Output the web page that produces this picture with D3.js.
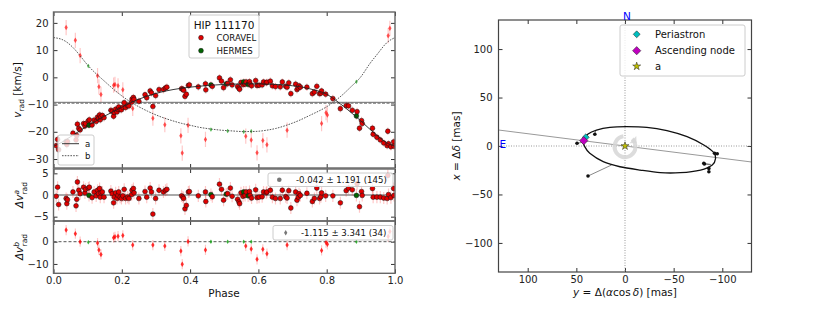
<!DOCTYPE html>
<html>
<head>
<meta charset="utf-8">
<script src="https://cdn.jsdelivr.net/npm/d3@7"></script>
<style>
body{margin:0;background:#fff}
svg{display:block;font-family:"DejaVu Sans",sans-serif}
</style>
</head>
<body>
<svg id="chart" width="830" height="312"></svg>
<script>
// ---- component a : phase, radial velocity, O-C residual, instrument (C=CORAVEL, H=HERMES)
var phaseA = [0.008,0.012,0.015,0.037,0.039,0.041,0.057,0.066,0.068,0.070,0.074,0.078,0.088,0.092,0.094,0.102,0.104,0.105,0.113,0.119,
  0.125,0.129,0.132,0.135,0.137,0.139,0.143,0.148,0.168,0.172,0.176,0.178,0.182,0.186,0.189,0.191,0.195,0.199,0.203,0.207,
  0.211,0.217,0.221,0.229,0.230,0.234,0.236,0.250,0.268,0.273,0.283,0.287,0.291,0.299,0.309,0.322,0.328,0.332,0.375,0.379,
  0.381,0.385,0.389,0.395,0.398,0.424,0.445,0.446,0.461,0.465,0.486,0.492,0.498,0.506,0.510,0.518,0.523,0.539,0.543,0.545,
  0.549,0.555,0.557,0.561,0.564,0.570,0.574,0.576,0.580,0.592,0.596,0.602,0.611,0.615,0.623,0.625,0.635,0.641,0.650,0.664,
  0.670,0.680,0.684,0.689,0.695,0.709,0.713,0.717,0.719,0.723,0.742,0.758,0.764,0.771,0.779,0.783,0.785,0.797,0.818,0.840,
  0.857,0.864,0.875,0.887,0.889,0.896,0.902,0.904,0.934,0.936,0.947,0.957,0.967,0.977,0.979,0.981,0.988,0.996,0.997];
var velA = [-25.1,-22.8,-26.6,-23.6,-24.7,-23.6,-20.5,-23.0,-21.4,-17.2,-18.8,-19.3,-17.0,-17.9,-17.0,-16.0,-17.6,-15.6,-17.5,-15.7,
  -16.2,-14.6,-15.2,-13.8,-15.6,-14.5,-14.0,-14.8,-12.1,-12.5,-14.3,-12.9,-11.7,-12.7,-11.8,-10.9,-11.8,-11.9,-11.0,-9.3,
  -11.1,-10.4,-10.5,-9.1,-8.0,-7.4,-8.1,-8.8,-6.4,-7.5,-5.0,-5.7,-10.7,-6.7,-4.5,-4.5,-3.9,-3.6,-4.2,-4.4,
  -4.7,-7.0,-6.2,-3.0,-2.8,-3.5,-2.4,-4.6,-2.8,-3.3,-0.2,-1.4,-3.8,-2.4,-2.3,-0.9,-2.8,-3.4,-4.0,-4.4,
  -1.9,-2.7,-1.7,-2.5,-1.7,-2.6,-1.6,-2.5,-3.1,-1.2,-3.0,-2.9,-2.8,-1.7,-2.0,-1.8,-1.4,-3.1,-3.4,-3.5,
  -1.7,-3.3,-3.6,-2.0,-6.0,-2.5,-4.5,-3.9,-3.1,-3.6,-3.6,-6.0,-5.4,-3.3,-6.0,-5.8,-5.0,-6.2,-7.8,-11.5,
  -10.4,-10.5,-12.1,-14.2,-12.6,-18.7,-15.9,-17.0,-18.7,-20.9,-22.0,-23.0,-24.1,-25.1,-19.8,-24.4,-25.5,-23.7,-25.3];
var resA = [-0.3,1.8,-2.2,-0.8,-2.0,-1.1,0.7,-2.5,-1.0,3.0,1.1,0.3,1.8,0.5,1.3,1.6,-0.1,1.8,-0.6,0.7,
  -0.2,1.1,0.3,1.5,-0.5,0.5,0.7,-0.5,0.9,0.3,-1.8,-0.5,0.5,-0.8,-0.1,0.7,-0.5,-0.8,-0.2,1.3,
  -0.8,-0.5,-0.8,0.1,1.1,1.5,0.5,-0.8,0.8,-0.5,1.6,0.7,-4.4,-0.8,1.1,0.7,1.1,1.3,-0.2,-0.5,
  -0.8,-3.2,-2.4,0.7,0.8,-0.2,0.7,-1.5,0.1,-0.4,2.5,1.3,-1.2,0.2,0.3,1.6,-0.3,-1.0,-1.6,-2.0,
  0.5,-0.3,0.7,-0.1,0.7,-0.2,0.8,-0.1,-0.7,1.2,-0.6,-0.5,-0.4,0.7,0.5,0.7,1.1,-0.5,-0.8,-0.8,
  1.1,-0.4,-0.7,1.0,-3.0,0.7,-1.2,-0.5,0.3,-0.1,0.4,-1.5,-0.8,1.6,-0.8,-0.4,0.5,-0.2,-0.2,-1.8,
  1.0,1.6,1.2,-0.1,2.6,-2.7,0.8,-0.1,1.5,-0.5,-0.5,-0.5,-0.7,-0.8,4.5,0.1,-0.6,1.5,-0.1];
var instA = "CCCCCCCCCCCCCCCCHCCCCCCCCCCCCCCCCCCCCCCCCCCCCCCCCCCCCCCCCCCCCCCCCCCCHCCCCHCCCCCCCCHCCHCCCCCCCCCCCCCCCCCCCCCCCCCCCCCCCCCCCCCHCCCCCCCCCCCCCC".split("");

// ---- component b
var phaseB = [0.037,0.064,0.078,0.102,0.129,0.133,0.139,0.176,0.180,0.189,0.203,0.232,0.291,0.326,0.373,0.377,0.394,0.445,
  0.461,0.510,0.557,0.563,0.579,0.579,0.596,0.613,0.625,0.684,0.785,0.798,0.802,0.887,0.980,0.985];
var velB = [18.3,13.6,8.0,4.2,0.6,-3.5,-6.3,-2.9,-2.6,-3.1,-4.6,-11.4,-15.0,-17.4,-21.5,-27.8,-17.6,-22.8,
  -19.2,-19.7,-20.0,-21.6,-23.0,-19.8,-27.7,-23.2,-24.8,-19.4,-17.0,-13.0,-13.8,-1.6,15.3,18.0];
var resB = [5.2,3.6,0.0,-0.2,-0.6,-3.7,-5.7,1.8,2.2,2.5,2.8,-1.5,-1.5,-1.9,-4.2,-10.1,0.1,-3.7,
  0.0,0.0,0.0,-1.9,-3.3,0.0,-7.9,-3.4,-5.4,-1.5,-3.9,-0.4,-1.2,0.0,2.3,4.6];
var instB = "CCCHCCCCCCCCCCCCCCHHHCCHCCCCCCCHCC".split("");

// ---- orbital solutions
var curvePhase = [0,0.025,0.05,0.075,0.1,0.125,0.15,0.175,0.2,0.225,0.25,0.275,0.3,0.325,0.35,0.375,0.4,0.425,0.45,0.475,
  0.5,0.525,0.55,0.575,0.6,0.625,0.65,0.675,0.7,0.725,0.75,0.775,0.8,0.825,0.85,0.875,0.9,0.925,0.95,0.975,1.0];
var curveA = [-25.3,-23.8,-21.8,-19.8,-17.8,-16.0,-14.2,-12.6,-11.0,-9.4,-8.0,-6.9,-5.9,-5.1,-4.5,-4.0,-3.6,-3.3,-3.0,-2.8,
  -2.6,-2.5,-2.4,-2.4,-2.4,-2.5,-2.6,-2.8,-3.1,-3.5,-4.2,-5.0,-6.2,-8.3,-10.7,-13.3,-16.0,-18.9,-21.6,-24.0,-25.3];
var curveB = [14.6,13.9,11.8,8.4,4.5,1.3,-1.5,-4.3,-6.8,-9.0,-10.8,-12.4,-13.8,-15.0,-16.0,-16.9,-17.6,-18.3,-18.8,-19.2,
  -19.5,-19.7,-19.9,-19.9,-19.8,-19.4,-18.8,-17.9,-16.8,-15.5,-14.0,-12.5,-10.8,-8.6,-6.0,-3.0,0.2,4.8,8.8,12.6,14.6];
var gammaA = -9.2, gammaB = -9.45;

var topTicks = [20,10,0,-10,-20,-30], midTicks = [5,0,-5], botTicks = [0,-10];
var phaseTicks = [0,0.2,0.4,0.6,0.8,1.0];

// ---- astrometric orbit (mas)
var orbitRA  = [43.1,38.0,29.3,15.5,-1.7,-22.4,-43.1,-63.8,-81.0,-91.3,-93.1,-89.7,-77.6,-56.9,-36.2,-15.5,5.2,22.4,36.2,41.4];
var orbitDec = [5.5,12.4,16.5,19.3,20.0,19.3,15.8,9.6,1.0,-6.9,-12.7,-19.6,-24.8,-27.5,-27.5,-24.8,-21.4,-16.2,-7.6,-0.7];
var obsRA  = [31.0,49.3,38.0,-92.0,-94.8,-81.0,-81.6,-86.2,-86.2];
var obsDec = [12.1,2.8,-31.0,-7.6,-8.0,-17.9,-18.6,-23.1,-26.6];
var fitRA  = [30.0,43.0,13.8,-91.5,-92.5,-88.0,-88.5,-87.0,-86.5];
var fitDec = [16.4,4.0,-19.6,-7.5,-9.0,-19.0,-19.5,-22.0,-25.5];
var nodeRA = [130,-130], nodeDec = [16.5,-16.5];
var periastron = [40.3,9.0], ascNode = [42.4,5.5], starA = [0,0];
var orbitTicks = [100,50,0,-50,-100];

var svg = d3.select("#chart");
var fmt = d3.format("d");
var defs = svg.append("defs");

function styleAxis(g){
  g.attr("font-family","DejaVu Sans").attr("font-size",10);
  g.select(".domain").remove();
  g.selectAll(".tick line").attr("stroke","#333");
  g.selectAll(".tick text").attr("fill","#222");
}
function clip(id,x0,y0,w,h){
  defs.append("clipPath").attr("id",id).append("rect").attr("x",x0).attr("y",y0).attr("width",w).attr("height",h);
}
var thinDiamond = function(cx,cy,h){
  var w = h*0.6;
  return "M"+cx+","+(cy-h/2)+"L"+(cx+w/2)+","+cy+"L"+cx+","+(cy+h/2)+"L"+(cx-w/2)+","+cy+"Z";
};

// ================= left: radial velocity panels =================
var x = d3.scaleLinear().domain([0,1]).range([53.5,395]);
var yTop = d3.scaleLinear().domain([-33.3,24]).range([168,12]);
var yMid = d3.scaleLinear().domain([-6,6]).range([221,169]);
var yBot = d3.scaleLinear().domain([-14.2,9.3]).range([273.3,221]);

function panelAxes(y, ticks, labels, id){
  var r = y.range();
  clip(id, 53.5, r[1], 341.5, r[0]-r[1]);
  var gl = svg.append("g").attr("transform","translate(53.5,0)")
    .call(d3.axisLeft(y).tickValues(ticks).tickSizeInner(-4).tickSizeOuter(0).tickPadding(5).tickFormat(fmt));
  styleAxis(gl);
  var gr = svg.append("g").attr("transform","translate(395,0)")
    .call(d3.axisRight(y).tickValues(ticks).tickSizeInner(-4).tickSizeOuter(0).tickFormat(""));
  styleAxis(gr);
  var gb = svg.append("g").attr("transform","translate(0,"+r[0]+")")
    .call(d3.axisBottom(x).tickValues(phaseTicks).tickSizeInner(-4).tickSizeOuter(0).tickPadding(3.5)
      .tickFormat(labels ? d3.format(".1f") : ""));
  styleAxis(gb);
  var gt = svg.append("g").attr("transform","translate(0,"+r[1]+")")
    .call(d3.axisTop(x).tickValues(phaseTicks).tickSizeInner(-4).tickSizeOuter(0).tickFormat(""));
  styleAxis(gt);
  return svg.append("g").attr("clip-path","url(#"+id+")");
}

// ---- top panel
var pTop = panelAxes(yTop, topTicks, false, "cTop");
pTop.append("line").attr("x1",x(0)).attr("x2",x(1)).attr("y1",yTop(gammaA)).attr("y2",yTop(gammaA))
  .attr("stroke","#8a8a8a").attr("stroke-width",1.3);
pTop.append("line").attr("x1",x(0)).attr("x2",x(1)).attr("y1",yTop(gammaB)).attr("y2",yTop(gammaB))
  .attr("stroke","#777").attr("stroke-width",1.3).attr("stroke-dasharray","3,1.5");

// b errors + markers
pTop.selectAll(".eb").data(phaseB).enter().append("line")
  .attr("x1",function(d){return x(d);}).attr("x2",function(d){return x(d);})
  .attr("y1",function(d,i){return yTop(velB[i]+(instB[i]=="H"?0.6:2.8));})
  .attr("y2",function(d,i){return yTop(velB[i]-(instB[i]=="H"?0.6:2.8));})
  .attr("stroke",function(d,i){return instB[i]=="H"?"rgba(0,140,0,0.3)":"rgba(255,0,0,0.22)";}).attr("stroke-width",1.2);
pTop.selectAll(".mb").data(phaseB).enter().append("path")
  .attr("d",function(d,i){return thinDiamond(x(d),yTop(velB[i]),instB[i]=="H"?4.5:5.5);})
  .attr("fill",function(d,i){return instB[i]=="H"?"#1aa31a":"#ff0000";})
  .attr("opacity",0.65);

// a errors + markers
pTop.selectAll(".ea").data(phaseA).enter().append("line")
  .attr("x1",function(d){return x(d);}).attr("x2",function(d){return x(d);})
  .attr("y1",function(d,i){return yTop(velA[i]+1.4);}).attr("y2",function(d,i){return yTop(velA[i]-1.4);})
  .attr("stroke","rgba(255,0,0,0.22)").attr("stroke-width",1.2);

var lineTop = d3.line().x(function(d){return x(d[0]);}).y(function(d){return yTop(d[1]);}).curve(d3.curveNatural);
pTop.append("path").datum(curvePhase.map(function(p,i){return [p,curveB[i]];}))
  .attr("d",lineTop).attr("fill","none").attr("stroke","#444").attr("stroke-width",0.9).attr("stroke-dasharray","1.6,1.2");

pTop.selectAll(".ma").data(phaseA).enter().append("circle")
  .attr("cx",function(d){return x(d);}).attr("cy",function(d,i){return yTop(velA[i]);}).attr("r",2.4)
  .attr("fill",function(d,i){return instA[i]=="H"?"#006400":"#e00000";})
  .attr("stroke","#111").attr("stroke-width",0.5);

pTop.append("path").datum(curvePhase.map(function(p,i){return [p,curveA[i]];}))
  .attr("d",lineTop).attr("fill","none").attr("stroke","#222").attr("stroke-width",0.9);

// ---- middle panel (residuals a)
var pMid = panelAxes(yMid, midTicks, false, "cMid");
pMid.append("line").attr("x1",x(0)).attr("x2",x(1)).attr("y1",yMid(0)).attr("y2",yMid(0))
  .attr("stroke","#555").attr("stroke-width",1.2);
pMid.selectAll(".ea").data(phaseA).enter().append("line")
  .attr("x1",function(d){return x(d);}).attr("x2",function(d){return x(d);})
  .attr("y1",function(d,i){return yMid(resA[i]+1.4);}).attr("y2",function(d,i){return yMid(resA[i]-1.4);})
  .attr("stroke","rgba(255,0,0,0.22)").attr("stroke-width",1.2);
pMid.selectAll(".ma").data(phaseA).enter().append("circle")
  .attr("cx",function(d){return x(d);}).attr("cy",function(d,i){return yMid(resA[i]);}).attr("r",2.4)
  .attr("fill",function(d,i){return instA[i]=="H"?"#006400":"#e00000";})
  .attr("stroke","#111").attr("stroke-width",0.5);

// ---- bottom panel (residuals b)
var pBot = panelAxes(yBot, botTicks, true, "cBot");
pBot.append("line").attr("x1",x(0)).attr("x2",x(1)).attr("y1",yBot(0)).attr("y2",yBot(0))
  .attr("stroke","#555").attr("stroke-width",1).attr("stroke-dasharray","3,2");
pBot.selectAll(".eb").data(phaseB).enter().append("line")
  .attr("x1",function(d){return x(d);}).attr("x2",function(d){return x(d);})
  .attr("y1",function(d,i){return yBot(resB[i]+(instB[i]=="H"?0.6:2.3));})
  .attr("y2",function(d,i){return yBot(resB[i]-(instB[i]=="H"?0.6:2.3));})
  .attr("stroke",function(d,i){return instB[i]=="H"?"rgba(0,140,0,0.3)":"rgba(255,0,0,0.22)";}).attr("stroke-width",1.2);
pBot.selectAll(".mb").data(phaseB).enter().append("path")
  .attr("d",function(d,i){return thinDiamond(x(d),yBot(resB[i]),instB[i]=="H"?4.5:5.5);})
  .attr("fill",function(d,i){return instB[i]=="H"?"#1aa31a":"#ff0000";})
  .attr("opacity",0.8);

// frames
[yTop,yMid,yBot].forEach(function(y){
  var r = y.range();
  svg.append("rect").attr("x",53.5).attr("y",r[1]).attr("width",341.5).attr("height",r[0]-r[1])
    .attr("fill","none").attr("stroke","#666").attr("stroke-width",1.4);
});

// legends (left)
var lg = svg.append("g").attr("font-family","DejaVu Sans");
lg.append("rect").attr("x",189).attr("y",15).attr("width",70).attr("height",43).attr("rx",2)
  .attr("fill","white").attr("fill-opacity",0.8).attr("stroke","#ccc");
lg.append("text").attr("x",224).attr("y",29).attr("text-anchor","middle").attr("font-size",10.5).attr("fill","#111").text("HIP 111170");
lg.append("circle").attr("cx",201).attr("cy",37.7).attr("r",2.4).attr("fill","#e00000").attr("stroke","#111").attr("stroke-width",0.5);
lg.append("text").attr("x",216.5).attr("y",40.8).attr("font-size",8.6).attr("fill","#111").text("CORAVEL");
lg.append("circle").attr("cx",201).attr("cy",50.7).attr("r",2.4).attr("fill","#006400").attr("stroke","#111").attr("stroke-width",0.5);
lg.append("text").attr("x",216.5).attr("y",53.8).attr("font-size",8.6).attr("fill","#111").text("HERMES");

lg.append("rect").attr("x",58).attr("y",135).attr("width",36).attr("height",30).attr("rx",2)
  .attr("fill","white").attr("fill-opacity",0.8).attr("stroke","#ccc");
lg.append("line").attr("x1",62).attr("x2",79).attr("y1",143.7).attr("y2",143.7).attr("stroke","#222").attr("stroke-width",0.9);
lg.append("text").attr("x",85).attr("y",147).attr("font-size",8.6).attr("fill","#111").text("a");
lg.append("line").attr("x1",62).attr("x2",79).attr("y1",155.7).attr("y2",155.7).attr("stroke","#444").attr("stroke-width",0.9).attr("stroke-dasharray","1.6,1.2");
lg.append("text").attr("x",85).attr("y",159).attr("font-size",8.6).attr("fill","#111").text("b");

lg.append("rect").attr("x",268).attr("y",173).attr("width",125).attr("height",13.5).attr("rx",2)
  .attr("fill","white").attr("fill-opacity",0.8).attr("stroke","#ccc");
lg.append("circle").attr("cx",279.3).attr("cy",179.8).attr("r",2.3).attr("fill","#777");
lg.append("text").attr("x",296).attr("y",183).attr("font-size",8.6).attr("fill","#111").text("-0.042 \u00b1 1.191 (145)");
lg.append("rect").attr("x",273).attr("y",225.5).attr("width",120).attr("height",14.5).attr("rx",2)
  .attr("fill","white").attr("fill-opacity",0.8).attr("stroke","#ccc");
lg.append("path").attr("d",thinDiamond(285.7,232.7,5.5)).attr("fill","#777");
lg.append("text").attr("x",301).attr("y",236).attr("font-size",8.6).attr("fill","#111").text("-1.115 \u00b1 3.341 (34)");

// axis labels (left)
var yl1 = svg.append("text").attr("transform","translate(21,90) rotate(-90)").attr("text-anchor","middle")
  .attr("font-size",10.5).attr("fill","#111");
yl1.append("tspan").attr("font-style","italic").text("v");
yl1.append("tspan").attr("font-size",7.5).attr("dy",2.5).text("rad");
yl1.append("tspan").attr("dy",-2.5).text(" [km/s]");

function dvLabel(cy, sup){
  var t = svg.append("text").attr("transform","translate(23,"+cy+") rotate(-90)").attr("text-anchor","middle")
    .attr("font-size",10.5).attr("fill","#111");
  t.append("tspan").attr("font-style","italic").text("\u0394v");
  t.append("tspan").attr("font-size",7.5).attr("font-style","italic").attr("dy",-4).text(sup);
  t.append("tspan").attr("font-size",7.5).attr("dx",-4.5).attr("dy",7.5).text("rad");
}
dvLabel(195,"a");
dvLabel(247,"b");
svg.append("text").attr("x",224).attr("y",297).attr("text-anchor","middle").attr("font-size",10.5).attr("fill","#111").text("Phase");

// ================= right: astrometric orbit =================
var xR = d3.scaleLinear().domain([130,-130]).range([498.5,751.5]);
var yR = d3.scaleLinear().domain([-130,130]).range([272,20]);
clip("cOrb",498.5,20,253,252);

var g1 = svg.append("g").attr("transform","translate(498.5,0)")
  .call(d3.axisLeft(yR).tickValues(orbitTicks).tickSizeInner(-4).tickSizeOuter(0).tickPadding(6).tickFormat(fmt));
styleAxis(g1);
var g2 = svg.append("g").attr("transform","translate(751.5,0)")
  .call(d3.axisRight(yR).tickValues(orbitTicks).tickSizeInner(-4).tickSizeOuter(0).tickFormat(""));
styleAxis(g2);
var g3 = svg.append("g").attr("transform","translate(0,272)")
  .call(d3.axisBottom(xR).tickValues(orbitTicks).tickSizeInner(-4).tickSizeOuter(0).tickPadding(4).tickFormat(fmt));
styleAxis(g3);
var g4 = svg.append("g").attr("transform","translate(0,20)")
  .call(d3.axisTop(xR).tickValues(orbitTicks).tickSizeInner(-4).tickSizeOuter(0).tickFormat(""));
styleAxis(g4);

var po = svg.append("g").attr("clip-path","url(#cOrb)");
po.append("line").attr("x1",xR(0)).attr("x2",xR(0)).attr("y1",20).attr("y2",272)
  .attr("stroke","#999").attr("stroke-width",1).attr("stroke-dasharray","1,1.5");
po.append("line").attr("x1",498.5).attr("x2",751.5).attr("y1",yR(0)).attr("y2",yR(0))
  .attr("stroke","#999").attr("stroke-width",1).attr("stroke-dasharray","1,1.5");
po.append("line").attr("x1",xR(nodeRA[0])).attr("x2",xR(nodeRA[1])).attr("y1",yR(nodeDec[0])).attr("y2",yR(nodeDec[1]))
  .attr("stroke","#999").attr("stroke-width",1);

// rotation sense symbol
var rc = [xR(0), yR(0)+0.7];
po.append("path").attr("transform","translate("+rc[0]+","+rc[1]+")")
  .attr("d",d3.arc().innerRadius(8.5).outerRadius(12.5).startAngle(0.75).endAngle(2*Math.PI-0.15)())
  .attr("fill","#d6d6d6").attr("opacity",0.85);
var aa = 0.75, ar = 10.5;
var ax0 = rc[0]+Math.sin(aa)*ar, ay0 = rc[1]-Math.cos(aa)*ar;
var dx = -Math.cos(aa), dy = -Math.sin(aa), nx = Math.sin(aa), ny = -Math.cos(aa);
po.append("path").attr("d","M"+(ax0-dx*1+nx*5)+","+(ay0-dy*1+ny*5)+"L"+(ax0-dx*1-nx*5)+","+(ay0-dy*1-ny*5)+"L"+(ax0-dx*6)+","+(ay0-dy*6)+"Z")
  .attr("fill","#d6d6d6").attr("opacity",0.85);

// obs - fit connectors
po.selectAll(".cn").data(obsRA).enter().append("line")
  .attr("x1",function(d){return xR(d);}).attr("y1",function(d,i){return yR(obsDec[i]);})
  .attr("x2",function(d,i){return xR(fitRA[i]);}).attr("y2",function(d,i){return yR(fitDec[i]);})
  .attr("stroke","#555").attr("stroke-width",0.7);

po.append("path").datum(orbitRA.map(function(d,i){return [d,orbitDec[i]];}))
  .attr("d",d3.line().x(function(d){return xR(d[0]);}).y(function(d){return yR(d[1]);}).curve(d3.curveCardinalClosed.tension(0.2)))
  .attr("fill","none").attr("stroke","#111").attr("stroke-width",1.3);

po.selectAll(".ob").data(obsRA).enter().append("circle")
  .attr("cx",function(d){return xR(d);}).attr("cy",function(d,i){return yR(obsDec[i]);}).attr("r",1.8).attr("fill","#111");

var diamond = d3.symbol().type(d3.symbolSquare);
po.append("path").attr("d",diamond.size(24)()).attr("transform","translate("+xR(periastron[0])+","+yR(periastron[1])+") rotate(45)")
  .attr("fill","#00bfbf").attr("stroke","#222").attr("stroke-width",0.5);
po.append("path").attr("d",diamond.size(34)()).attr("transform","translate("+xR(ascNode[0])+","+yR(ascNode[1])+") rotate(45)")
  .attr("fill","#bf00bf").attr("stroke","#222").attr("stroke-width",0.5);
var star = d3.symbol().type(d3.symbolStar).size(20);
po.append("path").attr("d",star()).attr("transform","translate("+xR(starA[0])+","+yR(starA[1])+")")
  .attr("fill","#bfbf00").attr("stroke","#222").attr("stroke-width",0.5);

svg.append("rect").attr("x",498.5).attr("y",20).attr("width",253).attr("height",252)
  .attr("fill","none").attr("stroke","#444").attr("stroke-width",1.2);

svg.append("text").attr("x",627).attr("y",20).attr("text-anchor","middle").attr("font-size",10.5).attr("fill","#0000ff").text("N");
svg.append("text").attr("x",499.5).attr("y",147.5).attr("font-size",10.5).attr("fill","#0000ff").text("E");

// legend (right)
var lr = svg.append("g").attr("font-family","DejaVu Sans");
lr.append("rect").attr("x",620).attr("y",25).attr("width",125).attr("height",51).attr("rx",2)
  .attr("fill","white").attr("fill-opacity",0.8).attr("stroke","#ccc");
lr.append("path").attr("d",diamond.size(24)()).attr("transform","translate(636.7,34.3) rotate(45)")
  .attr("fill","#00bfbf").attr("stroke","#222").attr("stroke-width",0.5);
lr.append("path").attr("d",diamond.size(34)()).attr("transform","translate(636.7,50.7) rotate(45)")
  .attr("fill","#bf00bf").attr("stroke","#222").attr("stroke-width",0.5);
lr.append("path").attr("d",star()).attr("transform","translate(636.7,66.3)")
  .attr("fill","#bfbf00").attr("stroke","#222").attr("stroke-width",0.5);
lr.append("text").attr("x",655).attr("y",38).attr("font-size",10).attr("fill","#111").text("Periastron");
lr.append("text").attr("x",655).attr("y",54.3).attr("font-size",10).attr("fill","#111").text("Ascending node");
lr.append("text").attr("x",655).attr("y",70).attr("font-size",10).attr("fill","#111").text("a");

// axis labels (right)
var xl = svg.append("text").attr("transform","translate(460,146) rotate(-90)").attr("text-anchor","middle")
  .attr("font-size",10.5).attr("fill","#111");
xl.append("tspan").attr("font-style","italic").text("x");
xl.append("tspan").text(" = \u0394");
xl.append("tspan").attr("font-style","italic").text("\u03b4");
xl.append("tspan").text(" [mas]");
var yl = svg.append("text").attr("x",625).attr("y",296).attr("text-anchor","middle").attr("font-size",10.5).attr("fill","#111");
yl.append("tspan").attr("font-style","italic").text("y");
yl.append("tspan").text(" = \u0394(");
yl.append("tspan").attr("font-style","italic").text("\u03b1");
yl.append("tspan").text("cos");
yl.append("tspan").attr("font-style","italic").text("\u2009\u03b4");
yl.append("tspan").text(") [mas]");
</script>
</body>
</html>
